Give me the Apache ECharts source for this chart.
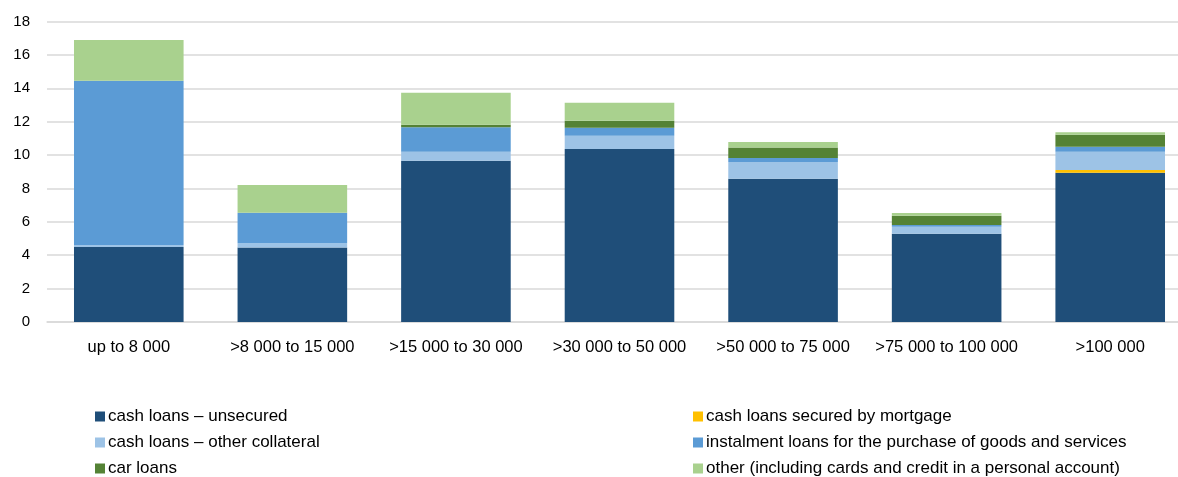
<!DOCTYPE html>
<html><head><meta charset="utf-8">
<script src="https://cdn.jsdelivr.net/npm/echarts@6/dist/echarts.min.js"></script>
<style>html,body{margin:0;padding:0;background:#fff;overflow:hidden;width:1178px;height:477px}#c{width:1192px;height:477px}</style>
</head><body><div id="c"></div>
<script>
const categories = ['up to 8 000', '>8 000 to 15 000', '>15 000 to 30 000', '>30 000 to 50 000', '>50 000 to 75 000', '>75 000 to 100 000', '>100 000'];
const cashUnsecured = [4.5, 4.47, 9.66, 10.36, 8.58, 5.29, 8.94];
const cashMortgage = [0, 0, 0, 0, 0, 0, 0.16];
const cashOtherCollateral = [0.1, 0.24, 0.54, 0.8, 1.0, 0.42, 1.1];
const instalmentLoans = [9.85, 1.84, 1.46, 0.47, 0.24, 0.1, 0.3];
const carLoans = [0, 0, 0.15, 0.42, 0.64, 0.56, 0.72];
const otherLoans = [2.44, 1.65, 1.92, 1.08, 0.32, 0.16, 0.14];
const yTicks = [0, 2, 4, 6, 8, 10, 12, 14, 16, 18];

const names = ['cash loans – unsecured', 'cash loans secured by mortgage', 'cash loans – other collateral', 'instalment loans for the purchase of goods and services', 'car loans', 'other (including cards and credit in a personal account)'];
const colors = ['#1F4E79', '#FFC000', '#9DC3E6', '#5B9BD5', '#548235', '#A9D18E'];
const dataSets = [cashUnsecured, cashMortgage, cashOtherCollateral, instalmentLoans, carLoans, otherLoans];

const font = 'Liberation Sans, sans-serif';
const legendText = { fontSize: 17, fontFamily: font, color: '#000', lineHeight: 17, padding: [0, 0, 0, -2] };
const chart = echarts.init(document.getElementById('c'));
chart.setOption({
  animation: false,
  grid: { left: 47, top: 21.5, right: 0, height: 300.5, containLabel: false },
  xAxis: {
    type: 'category', data: categories,
    axisLine: { lineStyle: { color: '#d9d9d9', width: 1.5 } },
    axisTick: { show: false },
    axisLabel: { color: '#000', fontSize: 16.5, fontFamily: font, margin: 17, interval: 0 }
  },
  yAxis: {
    type: 'value', min: yTicks[0], max: yTicks[yTicks.length - 1], interval: 2,
    axisLine: { show: false }, axisTick: { show: false },
    splitLine: { lineStyle: { color: '#d9d9d9', width: 1.5 } },
    axisLabel: { color: '#000', fontSize: 15, fontFamily: font, margin: 17 }
  },
  legend: [
    { data: [names[0], names[2], names[4]], orient: 'vertical', left: 90, top: 403, height: 80, itemWidth: 10, itemHeight: 10, itemGap: 9, icon: 'rect', textStyle: legendText },
    { data: [names[1], names[3], names[5]], orient: 'vertical', left: 688, top: 403, height: 80, itemWidth: 10, itemHeight: 10, itemGap: 9, icon: 'rect', textStyle: legendText }
  ],
  series: dataSets.map((d, i) => ({
    name: names[i], type: 'bar', stack: 'total', data: d, barWidth: '67%',
    itemStyle: { color: colors[i] }
  }))
});
</script></body></html>
